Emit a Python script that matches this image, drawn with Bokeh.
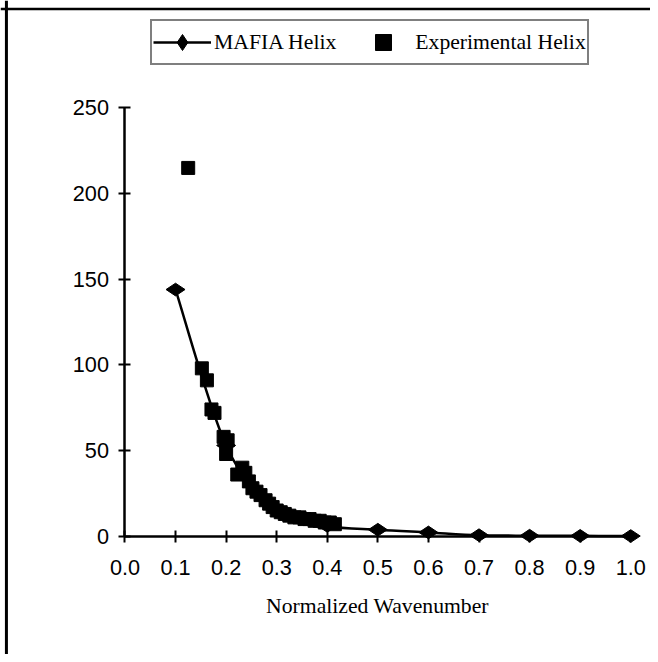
import numpy as np
from bokeh.plotting import figure
from bokeh.models import Range1d, FixedTicker, Span, Legend, LegendItem, ColumnDataSource
from bokeh.embed import file_html
from bokeh.resources import INLINE

# ---- data ----
mafia_x = [0.1, 0.2, 0.3, 0.4, 0.5, 0.6, 0.7, 0.8, 0.9, 1.0]
mafia_y = [144, 53, 15, 6, 3.8, 2.2, 0.6, 0.3, 0.2, 0.1]

exp_x = [0.125, 0.152, 0.162, 0.171, 0.177, 0.195, 0.203, 0.200, 0.222, 0.232,
         0.238, 0.245, 0.252, 0.260, 0.268, 0.278, 0.285, 0.292, 0.300, 0.308,
         0.316, 0.325, 0.335, 0.345, 0.355, 0.365, 0.375, 0.385, 0.395, 0.405, 0.415]
exp_y = [215, 98, 91, 74, 72, 58, 56, 48, 36, 40,
         37, 32, 28, 26, 24, 21, 19, 17, 15, 14,
         13, 12, 11, 11, 10, 10, 9, 9, 8, 8, 7]

x_ticks = [0.0, 0.1, 0.2, 0.3, 0.4, 0.5, 0.6, 0.7, 0.8, 0.9, 1.0]
y_ticks = [0, 50, 100, 150, 200, 250]
x_label = "Normalized Wavenumber"
series_names = ["MAFIA Helix", "Experimental Helix"]

# ---- figure ----
W, H = 650, 654
s = W / 658.0                 # scale from reference layout to figure
px_per_x = 512.0 * s          # pixels per x unit
px_per_y = 1.734 * s          # pixels per y unit
x_lo = -126 * s / px_per_x
x_hi = x_lo + W / px_per_x
y_hi = 542.3 * s / px_per_y
y_lo = y_hi - H / px_per_y
fs = f"{22 * s:.1f}px"

p = figure(width=W, height=H, x_range=Range1d(x_lo, x_hi), y_range=Range1d(y_lo, y_hi),
           output_backend="svg", toolbar_location=None, min_border=0)
p.min_border_left = p.min_border_right = p.min_border_top = p.min_border_bottom = 0
p.xgrid.visible = False
p.ygrid.visible = False
p.outline_line_color = None
p.background_fill_color = "white"
p.border_fill_color = "white"

tick_font = "Liberation Sans"
serif_font = "Liberation Serif"

xa = p.xaxis[0]
xa.fixed_location = 0
xa.bounds = (x_ticks[0], x_ticks[-1])
xa.ticker = FixedTicker(ticks=x_ticks)
xa.major_label_overrides = {t: f"{t:.1f}" for t in x_ticks}
xa.axis_label = x_label
xa.axis_label_text_font = serif_font
xa.axis_label_text_font_style = "normal"
xa.axis_label_text_font_size = fs
xa.axis_label_text_color = "black"
xa.axis_label_standoff = 15

ya = p.yaxis[0]
ya.fixed_location = 0
ya.bounds = (y_ticks[0], y_ticks[-1])
ya.ticker = FixedTicker(ticks=y_ticks)

for ax in (xa, ya):
    ax.axis_line_width = 2.5
    ax.axis_line_color = "black"
    ax.major_tick_line_width = 2
    ax.major_tick_line_color = "black"
    ax.major_tick_in = 6
    ax.major_tick_out = 6
    ax.minor_tick_line_color = None
    ax.major_label_text_font = tick_font
    ax.major_label_text_font_size = fs
    ax.major_label_text_color = "black"

xa.major_label_standoff = 18
ya.major_label_standoff = 10

# frame lines (top and left edges of the surrounding box)
p.add_layout(Span(location=y_hi - 8.5 * s / px_per_y, dimension="width",
                  line_color="black", line_width=2.5))
p.add_layout(Span(location=x_lo + 6 * s / px_per_x, dimension="height",
                  line_color="black", line_width=3))

# ---- MAFIA smoothed line via Bezier segments ----
n = len(mafia_x)
pts = list(zip(mafia_x, mafia_y))
x0s, y0s, x1s, y1s, cx0s, cy0s, cx1s, cy1s = [], [], [], [], [], [], [], []
for i in range(n - 1):
    pa = pts[max(i - 1, 0)]
    pb = pts[i]
    pc = pts[i + 1]
    pd = pts[min(i + 2, n - 1)]
    x0s.append(pb[0]); y0s.append(pb[1])
    x1s.append(pc[0]); y1s.append(pc[1])
    cx0s.append(pb[0] + (pc[0] - pa[0]) / 6); cy0s.append(pb[1] + (pc[1] - pa[1]) / 6)
    cx1s.append(pc[0] - (pd[0] - pb[0]) / 6); cy1s.append(pc[1] - (pd[1] - pb[1]) / 6)

bez_src = ColumnDataSource(dict(x0=x0s, y0=y0s, x1=x1s, y1=y1s,
                                cx0=cx0s, cy0=cy0s, cx1=cx1s, cy1=cy1s))
r_line = p.bezier(x0="x0", y0="y0", x1="x1", y1="y1", cx0="cx0", cy0="cy0",
                  cx1="cx1", cy1="cy1", source=bez_src, line_color="black", line_width=2.5)

r_dia = p.scatter(mafia_x, mafia_y, marker="diamond", angle=np.pi / 2, size=19,
                  fill_color="black", line_color="black")

r_sq = p.scatter(exp_x, exp_y, marker="square", size=13,
                 fill_color="black", line_color="black")

legend = Legend(items=[LegendItem(label=series_names[0], renderers=[r_line, r_dia]),
                       LegendItem(label=series_names[1], renderers=[r_sq])],
                orientation="horizontal", location=(round(152 * s), round(H - 66 * s)))
legend.label_text_font = serif_font
legend.label_text_font_size = fs
legend.label_text_color = "black"
legend.glyph_width = 58
legend.glyph_height = 40
legend.label_height = 40
legend.label_standoff = 3
legend.spacing = 18
legend.padding = 1
legend.margin = 0
legend.border_line_color = "black"
legend.border_line_width = 2
legend.background_fill_color = "white"
legend.background_fill_alpha = 1
p.add_layout(legend, "center")

open("out.html", "w").write(file_html(p, INLINE))
